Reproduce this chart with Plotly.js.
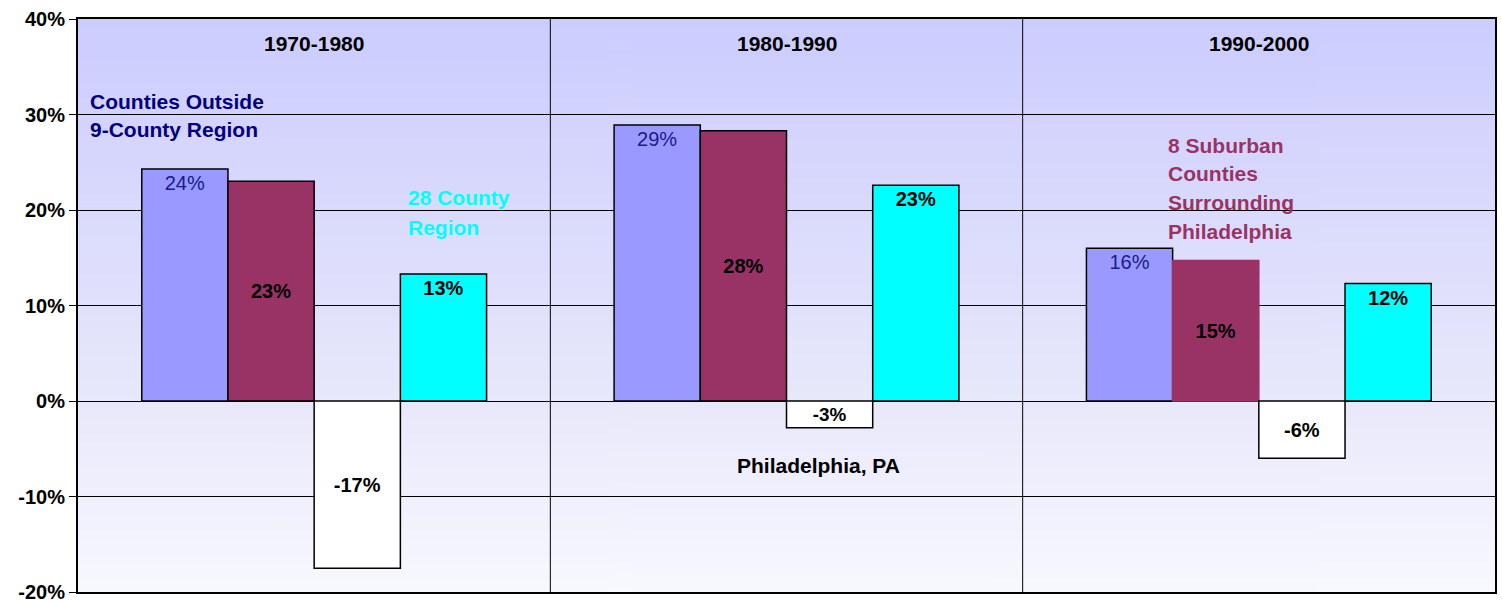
<!DOCTYPE html>
<html>
<head>
<meta charset="utf-8">
<script src="https://cdn.plot.ly/plotly-3.0.1.min.js"></script>
<style>
html,body{margin:0;padding:0;background:#fff;}
#chart{width:1502px;height:603px;}
</style>
</head>
<body>
<div id="chart"></div>
<script>
const periods = ["1970-1980", "1980-1990", "1990-2000"];
const outsideRegion = [24.3, 28.9, 16.0];
const suburban = [23.0, 28.3, 14.7];
const philadelphia = [-17.5, -2.8, -6.0];
const region28 = [13.3, 22.6, 12.3];
const outsideLabels = ["24%", "29%", "16%"];
const suburbanLabels = ["23%", "28%", "15%"];
const philaLabels = ["-17%", "-3%", "-6%"];
const region28Labels = ["13%", "23%", "12%"];
const yTicks = [-20, -10, 0, 10, 20, 30, 40];
const yTickLabels = ["-20%", "-10%", "0%", "10%", "20%", "30%", "40%"];

// gradient background image
const cv = document.createElement('canvas');
cv.width = 4; cv.height = 300;
const cx = cv.getContext('2d');
const g = cx.createLinearGradient(0, 0, 0, 300);
g.addColorStop(0, '#CCCCFF');
g.addColorStop(0.66, '#E8E8FB');
g.addColorStop(1, '#F8F8FF');
cx.fillStyle = g; cx.fillRect(0, 0, 4, 300);
const bgURL = cv.toDataURL('image/png');

const F = 'Arial, "Liberation Sans", sans-serif';
const baseLine = {color: '#000', width: 1.5};

const traces = [
  {type: 'bar', x: periods, y: outsideRegion, text: outsideLabels, name: 'Counties Outside 9-County Region',
   marker: {color: '#9999FF', line: baseLine},
   textposition: 'inside', insidetextanchor: 'end', textangle: 0,
   textfont: {family: F, size: 20, color: '#1A1A8C'}},
  {type: 'bar', x: periods, y: suburban, text: suburbanLabels, name: '8 Suburban Counties',
   marker: {color: '#993366', line: {color: ['#000', '#000', '#993366'], width: 1.5}},
   textposition: 'inside', insidetextanchor: 'middle', textangle: 0,
   textfont: {family: F, size: 20, color: '#000', weight: 'bold'}},
  {type: 'bar', x: periods, y: philadelphia, text: philaLabels, name: 'Philadelphia, PA',
   marker: {color: '#FFFFFF', line: baseLine},
   textposition: 'inside', insidetextanchor: 'middle', textangle: 0,
   textfont: {family: F, size: 20, color: '#000', weight: 'bold'}},
  {type: 'bar', x: periods, y: region28, text: region28Labels, name: '28 County Region',
   marker: {color: '#00FFFF', line: baseLine},
   textposition: 'inside', insidetextanchor: 'end', textangle: 0,
   textfont: {family: F, size: 20, color: '#000', weight: 'bold'}}
];

function ann(text, x, y, color, anchor) {
  return {text: text, x: x, y: y, xref: 'x', yref: 'y', showarrow: false,
    xanchor: anchor || 'left', yanchor: 'middle',
    font: {family: F, size: 21, color: color, weight: 'bold'}};
}

const annotations = [];
periods.forEach((p, i) => annotations.push(ann(p, i, 37.4, '#000', 'center')));
annotations.push(ann('Counties Outside', -0.478, 31.4, '#000080'));
annotations.push(ann('9-County Region', -0.478, 28.4, '#000080'));
annotations.push(ann('28 County', 0.194, 21.3, '#00FFFF'));
annotations.push(ann('Region', 0.194, 18.2, '#00FFFF'));
annotations.push(ann('8 Suburban', 1.804, 26.8, '#993366'));
annotations.push(ann('Counties', 1.804, 23.8, '#993366'));
annotations.push(ann('Surrounding', 1.804, 20.8, '#993366'));
annotations.push(ann('Philadelphia', 1.804, 17.8, '#993366'));
annotations.push(ann('Philadelphia, PA', 1.068, -6.8, '#000', 'center'));

const shapes = [0.5, 1.5].map(v => ({type: 'line', xref: 'x', yref: 'y', x0: v, x1: v, y0: -20, y1: 40,
  line: {color: '#000', width: 1}, layer: 'below'}));

const layout = {
  width: 1502, height: 603,
  margin: {l: 78, r: 7, t: 19, b: 11},
  paper_bgcolor: '#FFFFFF',
  plot_bgcolor: 'rgba(0,0,0,0)',
  showlegend: false,
  barmode: 'group', bargap: 0.27, bargroupgap: 0,
  font: {family: F},
  xaxis: {type: 'category', showticklabels: false, ticks: '', showgrid: false, zeroline: false,
    showline: true, linecolor: '#000', linewidth: 2, mirror: true, range: [-0.5, 2.5], fixedrange: true},
  yaxis: {range: [-20, 40], tickmode: 'array', tickvals: yTicks, ticktext: yTickLabels,
    ticks: 'outside', ticklen: 7, tickcolor: '#000', ticklabeloverflow: 'allow',
    tickfont: {family: F, size: 20, color: '#000', weight: 'bold'},
    showgrid: true, gridcolor: '#000', gridwidth: 1, zeroline: true, zerolinecolor: '#000', zerolinewidth: 1,
    showline: true, linecolor: '#000', linewidth: 2, mirror: true},
  images: [{source: bgURL, xref: 'paper', yref: 'paper', x: 0, y: 1, sizex: 1, sizey: 1,
    sizing: 'stretch', layer: 'below', xanchor: 'left', yanchor: 'top'}],
  annotations: annotations,
  shapes: shapes
};

Plotly.newPlot('chart', traces, layout, {displayModeBar: false, staticPlot: true});
</script>
</body>
</html>
